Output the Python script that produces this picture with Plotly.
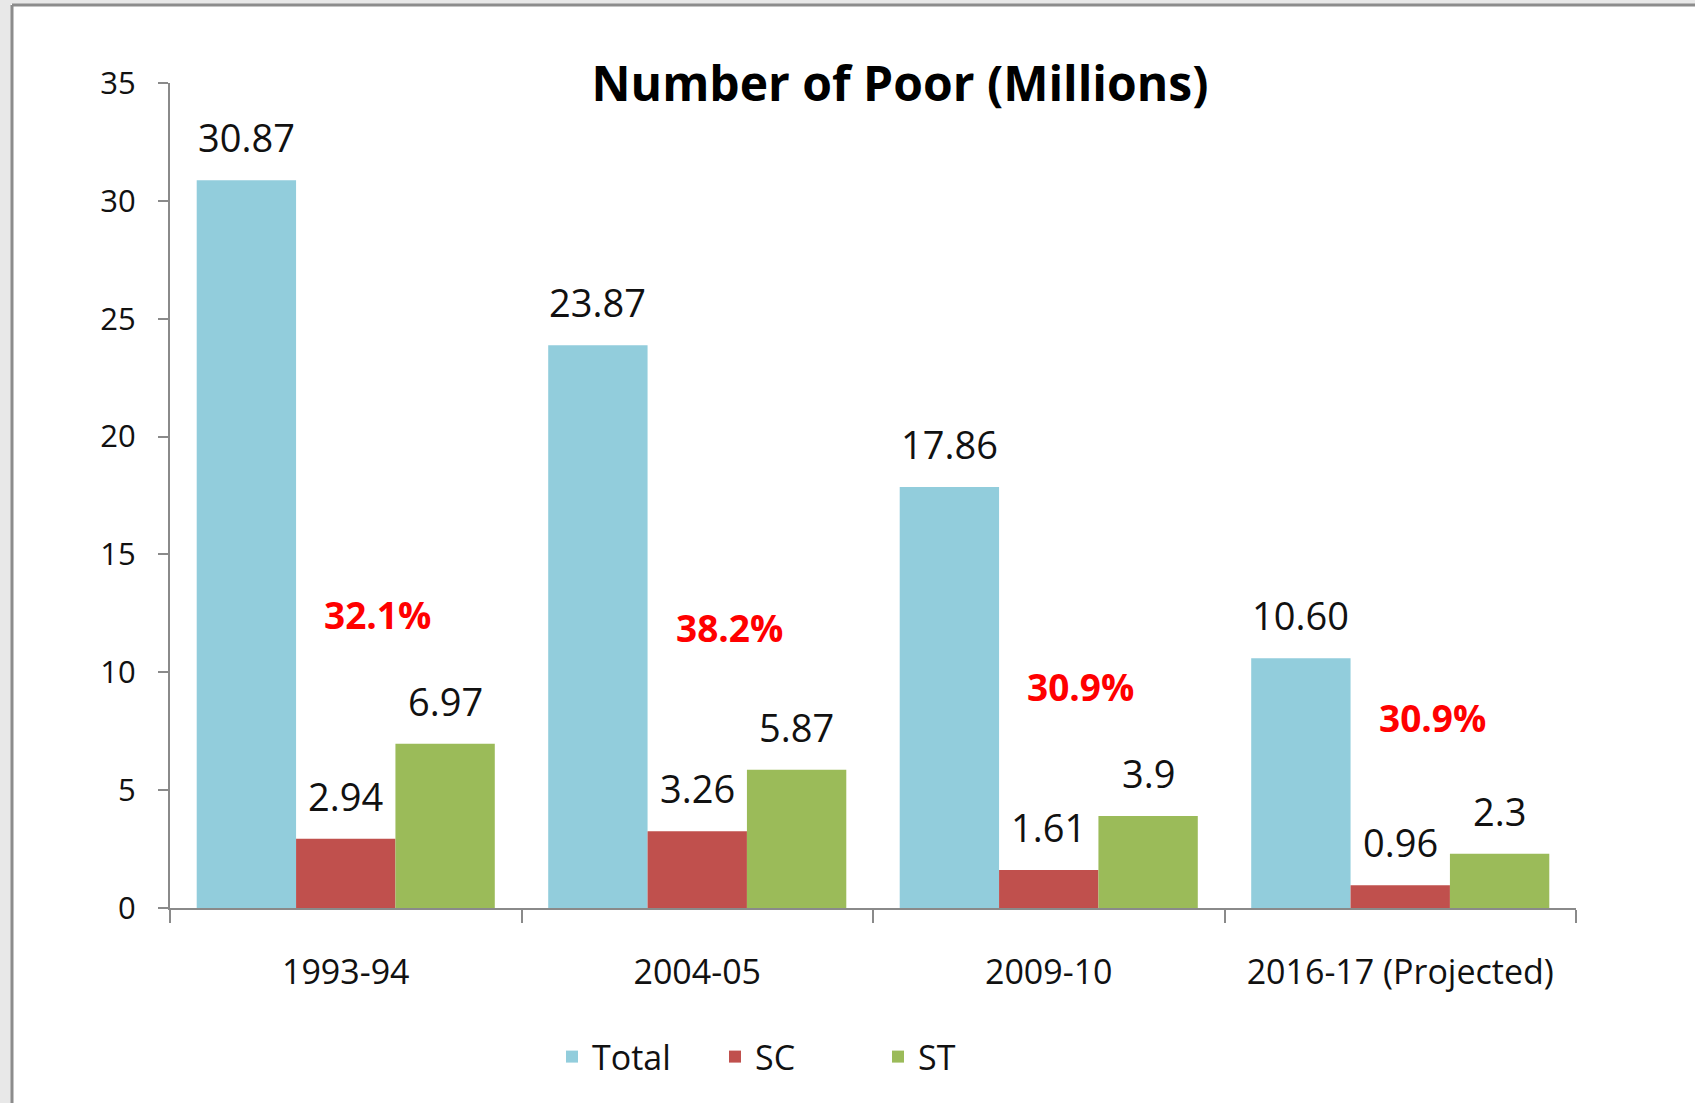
import plotly.graph_objects as go

# ---- data ----
periods = ["1993-94", "2004-05", "2009-10", "2016-17 (Projected)"]
total = [30.87, 23.87, 17.86, 10.60]
sc = [2.94, 3.26, 1.61, 0.96]
st = [6.97, 5.87, 3.9, 2.3]
share_pct = ["32.1%", "38.2%", "30.9%", "30.9%"]

# ---- layout helpers (not data) ----
W, H = 1695, 1103
L, R, T, B = 170, 1576, 83, 908
BARGAP = 0.152
pct_label_y = [12.47, 11.9, 9.4, 8.1]

def px_x(p):
    return (p - L) / (R - L)

def px_y(p):
    return (B - p) / (B - T)

FONT = "Open Sans"
AX = "#8a8a8a"
TXT = "#111111"

series = [
    ("Total", total, "#92CDDC", lambda v: f"{v:.2f}"),
    ("SC", sc, "#C0504D", lambda v: f"{v:.2f}"),
    ("ST", st, "#9BBB59", lambda v: f"{v:g}"),
]

fig = go.Figure()
slot = (1 - BARGAP) / len(series)
for k, (name, vals, color, fmt) in enumerate(series):
    fig.add_trace(go.Bar(name=name, x=periods, y=vals, marker_color=color,
                         marker_line_width=0))
    off = (k - (len(series) - 1) / 2) * slot
    for i, v in enumerate(vals):
        fig.add_annotation(x=i + off, y=v, xref="x", yref="y", text=fmt(v),
                           showarrow=False, yanchor="middle", yshift=43,
                           font=dict(family=FONT, size=38, color=TXT))

for i, (s, yv) in enumerate(zip(share_pct, pct_label_y)):
    fig.add_annotation(x=i, y=yv, xref="x", yref="y", text=f"<b>{s}</b>",
                       showarrow=False, xshift=32,
                       font=dict(family=FONT, size=37, color="#FF0000"))

# frame around the picture
shapes = [
    dict(type="rect", xref="paper", yref="paper", x0=px_x(0), x1=px_x(11),
         y0=px_y(H), y1=px_y(0), fillcolor="#e8e8e8", line_width=0, layer="below"),
    dict(type="rect", xref="paper", yref="paper", x0=px_x(0), x1=px_x(W),
         y0=px_y(4), y1=px_y(0), fillcolor="#e8e8e8", line_width=0, layer="below"),
    dict(type="line", xref="paper", yref="paper", x0=px_x(12), x1=px_x(12),
         y0=px_y(H), y1=px_y(5), line=dict(color="#8c8c8c", width=3)),
    dict(type="line", xref="paper", yref="paper", x0=px_x(12), x1=px_x(W),
         y0=px_y(5), y1=px_y(5), line=dict(color="#8c8c8c", width=3)),
]

fig.update_layout(
    width=W, height=H,
    margin=dict(l=L, r=W - R, t=T, b=H - B, autoexpand=False),
    paper_bgcolor="white", plot_bgcolor="rgba(0,0,0,0)",
    barmode="group", bargap=BARGAP, bargroupgap=0,
    font=dict(family=FONT, color=TXT),
    title=dict(text="<b>Number of Poor (Millions)</b>", x=900 / W, xref="container",
               xanchor="center", y=1 - 84 / H, yanchor="middle",
               font=dict(family=FONT, size=48, color="#000000")),
    xaxis=dict(type="category", showline=True, linecolor=AX, linewidth=2, ticks="outside",
               tickson="boundaries", ticklen=13, tickcolor=AX, tickwidth=2,
               tickfont=dict(family=FONT, size=34, color=TXT),
               ticklabelstandoff=33, showgrid=False, zeroline=False),
    yaxis=dict(range=[0, 35], dtick=5, showline=True, linecolor=AX, linewidth=2,
               ticks="outside", ticklen=10, tickcolor=AX, tickwidth=2,
               tickfont=dict(family=FONT, size=31, color=TXT),
               ticklabelstandoff=16, showgrid=False, zeroline=False),
    legend=dict(orientation="h", x=px_x(552), xanchor="left", y=px_y(1057),
                yanchor="middle", font=dict(family=FONT, size=34, color=TXT),
                itemwidth=30, traceorder="normal", entrywidth=118,
                entrywidthmode="pixels"),
    shapes=shapes,
)

fig.write_html("out.html", config={"displayModeBar": False},
               post_script="document.body.style.margin='0';")
